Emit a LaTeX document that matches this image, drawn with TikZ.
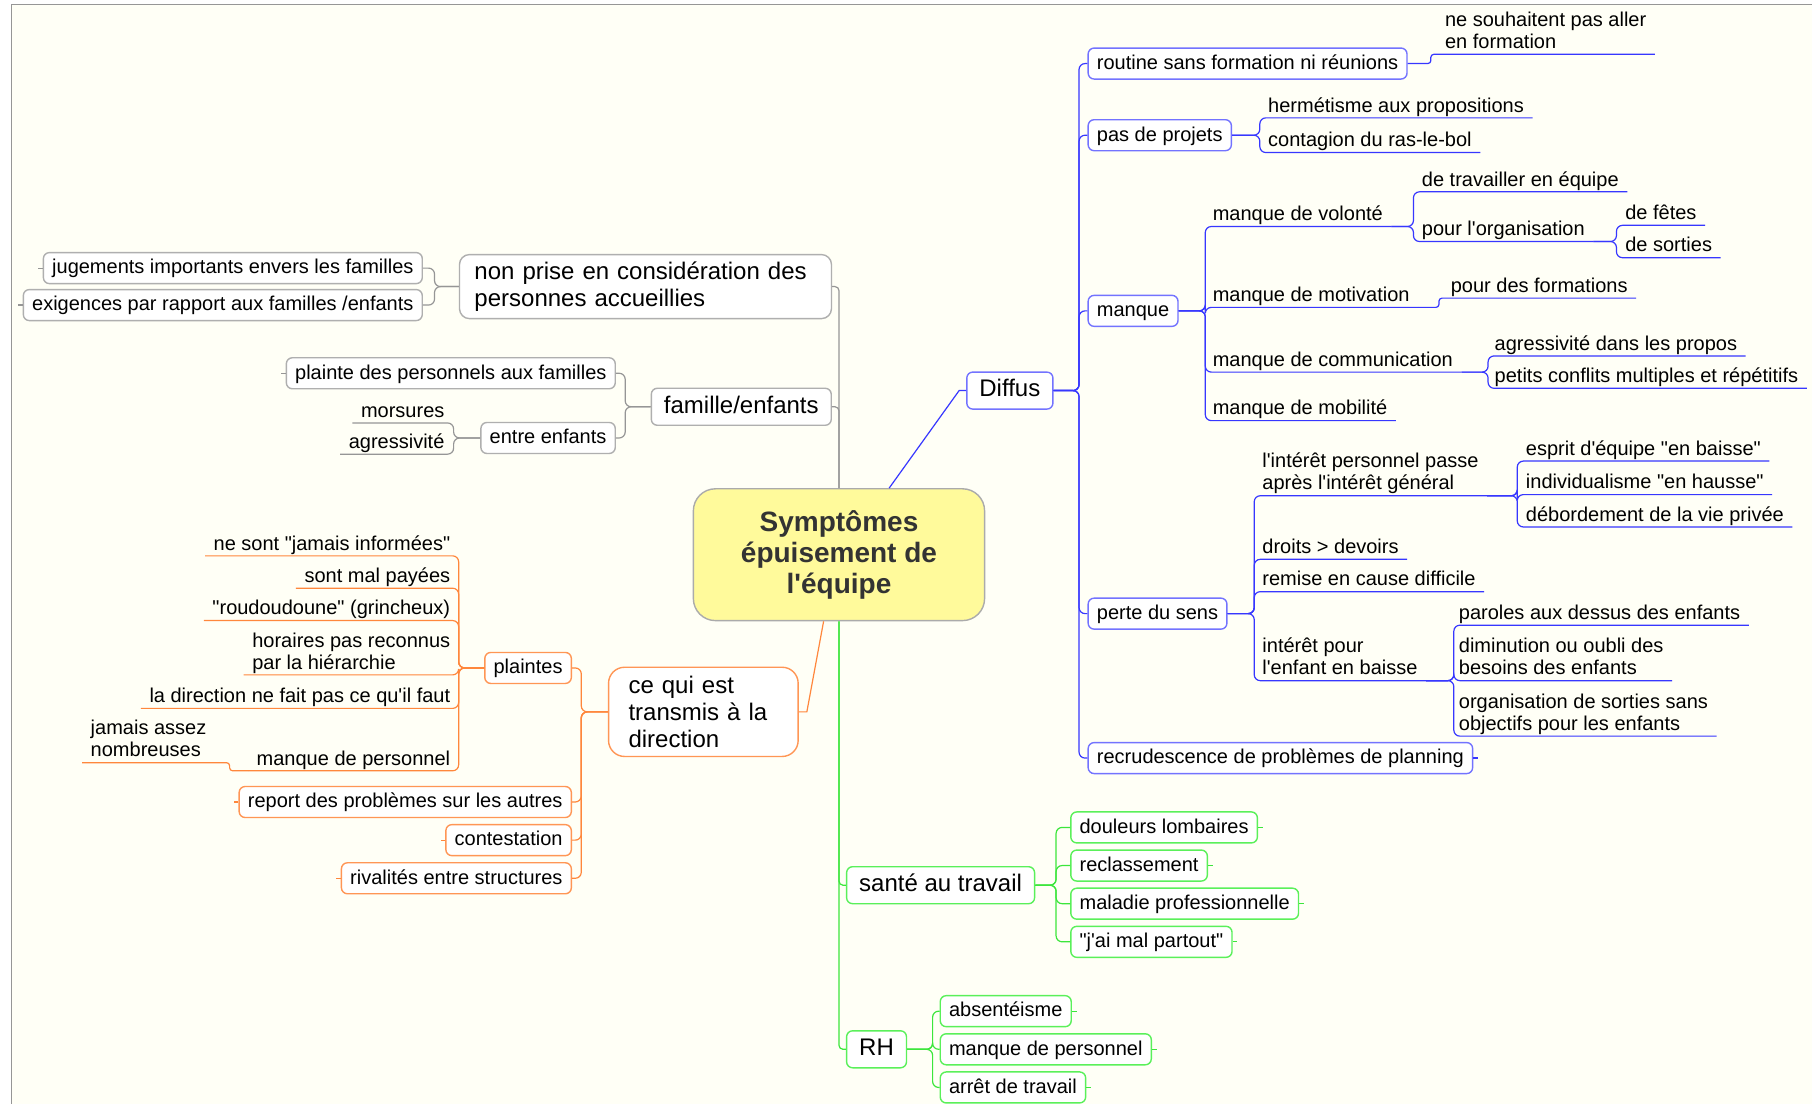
\documentclass[tikz,border=0pt]{standalone}
\usepackage{fontspec}
\setmainfont{Liberation Sans}[Ligatures=TeXOff]
\definecolor{paper}{RGB}{255,255,246}
\definecolor{cfill}{RGB}{255,250,155}
\definecolor{grline}{RGB}{150,150,150}
\definecolor{grbox}{RGB}{175,175,175}
\definecolor{bline}{RGB}{55,55,255}
\definecolor{bbox}{RGB}{115,115,255}
\definecolor{oline}{RGB}{255,135,60}
\definecolor{obox}{RGB}{255,150,85}
\definecolor{gline}{RGB}{60,230,60}
\definecolor{gbox}{RGB}{90,240,90}

\begin{document}
\begin{tikzpicture}[x=0.5778pt,y=-0.5778pt,line width=0.6pt,
  box/.style={draw,rounded corners=3pt,fill=white,line width=0.7pt,font=\fontsize{10}{11}\selectfont,inner xsep=4.4pt,inner ysep=1pt,minimum height=15.5pt,text height=7.6pt,text depth=1.8pt,anchor=west},
  big node/.style={box,font=\fontsize{12}{13.3}\selectfont,inner xsep=6.3pt,minimum height=18.5pt,text height=8.8pt,text depth=2.5pt},
  note node/.style={draw,fill=white,line width=0.7pt,font=\fontsize{12}{13.3}\selectfont,align=left,anchor=west},
  leaf/.style={font=\fontsize{10}{11}\selectfont,inner xsep=4pt,inner ysep=1.2pt,text depth=1.4pt,align=left,anchor=south west},
  left leaf/.style={leaf,anchor=south east},
  fork/.style={rounded corners=3pt,to path={-- ++(#1,0) |- (\tikztotarget) \tikztonodes}},
  elbow/.style={rounded corners=2pt,to path={|- (\tikztotarget) \tikztonodes}},
  slant/.style={to path={-- ([xshift=#1]\tikztotarget) -- (\tikztotarget) \tikztonodes}}]

  \useasboundingbox (0,0) rectangle (1568,955);
  \fill[white] (0,0) rectangle (1568,955);
  \fill[paper] (10,4) rectangle (1568,955);
  \draw[grline,line width=0.8pt] (10,955) -- (10,4) -- (1568,4);

  \node[draw=grline!80,fill=cfill,rounded corners=11pt,line width=0.7pt,minimum width=145.6pt,minimum height=65.9pt,align=center,text=black!80,font=\fontsize{14}{15.6}\selectfont\bfseries] (cen) at (726,480) {Symptômes\\épuisement de\\l'équipe};

  % famille / personnes accueillies
  \node[note node,draw=grbox,text width=171pt,inner xsep=7.5pt,inner ysep=3.7pt,rounded corners=5pt] (np) at (397,248) {non prise en considération des\\personnes accueillies};
  \node[box,draw=grbox,anchor=east] (jug) at (366,232) {jugements importants envers les familles};
  \node[box,draw=grbox,anchor=east] (exig) at (366,264) {exigences par rapport aux familles /enfants};
  \node[big node,draw=grbox] (fam) at (563,352) {famille/enfants};
  \node[box,draw=grbox,anchor=east] (pla) at (533,323) {plainte des personnels aux familles};
  \node[box,draw=grbox,anchor=east] (ee) at (533,379) {entre enfants};
  \node[left leaf] (mors) at (392,366) {morsures};
  \node[left leaf] (agr) at (392,393) {agressivité};

  % direction
  \node[note node,draw=obox,text width=74.8pt,inner xsep=10pt,inner ysep=4.6pt,rounded corners=8pt] (cq) at (526,616) {ce qui est\\transmis à la\\direction};
  \node[box,draw=obox,anchor=east] (plt) at (495,578) {plaintes};
  \node[box,draw=obox,anchor=east] (rep) at (495,694) {report des problèmes sur les autres};
  \node[box,draw=obox,anchor=east] (cont) at (495,727) {contestation};
  \node[box,draw=obox,anchor=east] (riv) at (495,760) {rivalités entre structures};
  \node[left leaf] (nsj) at (397,481) {ne sont "jamais informées"};
  \node[left leaf] (smp) at (397,509) {sont mal payées};
  \node[left leaf] (rou) at (397,537) {"roudoudoune" (grincheux)};
  \node[left leaf] (hor) at (397,584) {horaires pas reconnus\\par la hiérarchie};
  \node[left leaf] (dir) at (397,613) {la direction ne fait pas ce qu'il faut};
  \node[left leaf] (mdp) at (397,667) {manque de personnel};
  \node[left leaf] (jan) at (186,660) {jamais assez\\nombreuses};

  % diffus
  \node[big node,draw=bbox] (dif) at (836,338) {Diffus};
  \node[box,draw=bbox] (rout) at (941,55) {routine sans formation ni réunions};
  \node[box,draw=bbox] (pdp) at (941,117) {pas de projets};
  \node[box,draw=bbox] (man) at (941,269) {manque};
  \node[box,draw=bbox] (per) at (941,531) {perte du sens};
  \node[box,draw=bbox] (rec) at (941,656) {recrudescence de problèmes de planning};
  \node[leaf] (nes) at (1243,47) {ne souhaitent pas aller\\en formation};
  \node[leaf] (herm) at (1090,102) {hermétisme aux propositions};
  \node[leaf] (ctg) at (1090,132) {contagion du ras-le-bol};
  \node[leaf] (vol) at (1042,196) {manque de volonté};
  \node[leaf] (mot) at (1042,266) {manque de motivation};
  \node[leaf] (com) at (1042,322) {manque de communication};
  \node[leaf] (mob) at (1042,364) {manque de mobilité};
  \node[leaf] (trav) at (1223,166) {de travailler en équipe};
  \node[leaf] (org) at (1223,209) {pour l'organisation};
  \node[leaf] (fet) at (1399,195) {de fêtes};
  \node[leaf] (sor) at (1399,223) {de sorties};
  \node[leaf] (pdf) at (1248,258) {pour des formations};
  \node[leaf] (agp) at (1286,308) {agressivité dans les propos};
  \node[leaf] (pcm) at (1286,336) {petits conflits multiples et répétitifs};
  \node[leaf] (ipp) at (1085,429) {l'intérêt personnel passe\\après l'intérêt général};
  \node[leaf] (dro) at (1085,484) {droits > devoirs};
  \node[leaf] (rem) at (1085,512) {remise en cause difficile};
  \node[leaf] (ipe) at (1085,589) {intérêt pour\\l'enfant en baisse};
  \node[leaf] (esp) at (1313,399) {esprit d'équipe "en baisse"};
  \node[leaf] (ind) at (1313,428) {individualisme "en hausse"};
  \node[leaf] (deb) at (1313,456) {débordement de la vie privée};
  \node[leaf] (par) at (1255,541) {paroles aux dessus des enfants};
  \node[leaf] (dim) at (1255,589) {diminution ou oubli des\\besoins des enfants};
  \node[leaf] (ors) at (1255,637) {organisation de sorties sans\\objectifs pour les enfants};

  % sante / RH
  \node[big node,draw=gbox] (san) at (732,766) {santé au travail};
  \node[big node,draw=gbox] (rh) at (732,908) {RH};
  \node[box,draw=gbox] (dl) at (926,716) {douleurs lombaires};
  \node[box,draw=gbox] (recl) at (926,749) {reclassement};
  \node[box,draw=gbox] (mal) at (926,782) {maladie professionnelle};
  \node[box,draw=gbox] (jai) at (926,815) {"j'ai mal partout"};
  \node[box,draw=gbox] (abs) at (813,875) {absentéisme};
  \node[box,draw=gbox] (mpe) at (813,908) {manque de personnel};
  \node[box,draw=gbox] (arr) at (813,941) {arrêt de travail};

  \path[color=grline]
    (cen.north) edge[elbow] (np.east) edge[elbow] (fam.east)
    (np.west) edge[fork=-21] (jug.east) edge[fork=-21] (exig.east)
    (fam.west) edge[fork=-22] (pla.east) edge[fork=-22] (ee.east)
    (ee.west) edge[fork=-23] (mors.south west) edge[fork=-23] (agr.south west);

  \path[color=oline]
    (cen.257) edge[slant=4pt] (cq.east)
    (cq.west) edge[fork=-23] (plt.east) edge[fork=-23] (rep.east)
              edge[fork=-23] (cont.east) edge[fork=-23] (riv.east)
    (plt.west) edge[fork=-22] (nsj.south west) edge[fork=-22] (smp.south west)
               edge[fork=-22] (rou.south west) edge[fork=-22] (hor.south west)
               edge[fork=-22] (dir.south west) edge[fork=-22] (mdp.south west)
    (mdp.south west) edge[fork=-16,rounded corners=1.5pt] (jan.south west);

  \path[color=bline]
    (cen.53) edge[slant=-3.5pt] (dif.west)
    (dif.east) edge[fork=22] (rout.west) edge[fork=22] (pdp.west) edge[fork=22] (man.west)
               edge[fork=22] (per.west) edge[fork=22] (rec.west)
    (rout.east) edge[fork=20,rounded corners=1.5pt] (nes.south east)
    (pdp.east) edge[fork=24] (herm.south east) edge[fork=24] (ctg.south east)
    (man.east) edge[fork=23] (vol.south east) edge[fork=23] (mot.south east)
               edge[fork=23] (com.south east) edge[fork=23] (mob.south east)
    (vol.south east) edge[fork=19] (trav.south east) edge[fork=19] (org.south east)
    (org.south east) edge[fork=20] (fet.south east) edge[fork=20] (sor.south east)
    (mot.south east) edge[fork=18,rounded corners=1.5pt] (pdf.south east)
    (com.south east) edge[fork=23] (agp.south east) edge[fork=23] (pcm.south east)
    (per.east) edge[fork=23] (ipp.south east) edge[fork=23] (dro.south east)
               edge[fork=23] (rem.south east) edge[fork=23] (ipe.south east)
    (ipp.south east) edge[fork=26] (esp.south east) edge[fork=26] (ind.south east)
                     edge[fork=26] (deb.south east)
    (ipe.south east) edge[fork=24] (par.south east) edge[fork=24] (dim.south east)
                     edge[fork=24] (ors.south east);

  \path[color=gline]
    (cen.south) edge[elbow] (san.west) edge[elbow] (rh.west)
    (san.east) edge[fork=18] (dl.west) edge[fork=18] (recl.west)
               edge[fork=18] (mal.west) edge[fork=18] (jai.west)
    (rh.east) edge[fork=22] (abs.west) edge[fork=22] (mpe.west) edge[fork=22] (arr.west);

  \foreach \n in {jug,exig,pla} \draw[grline] (\n.west) -- ++(-4,0);
  \foreach \n in {rep,cont,riv} \draw[oline] (\n.west) -- ++(-4,0);
  \draw[bline] (rec.east) -- ++(4,0);
  \foreach \n in {dl,recl,mal,jai,abs,mpe,arr} \draw[gline] (\n.east) -- ++(4,0);
\end{tikzpicture}
\end{document}
